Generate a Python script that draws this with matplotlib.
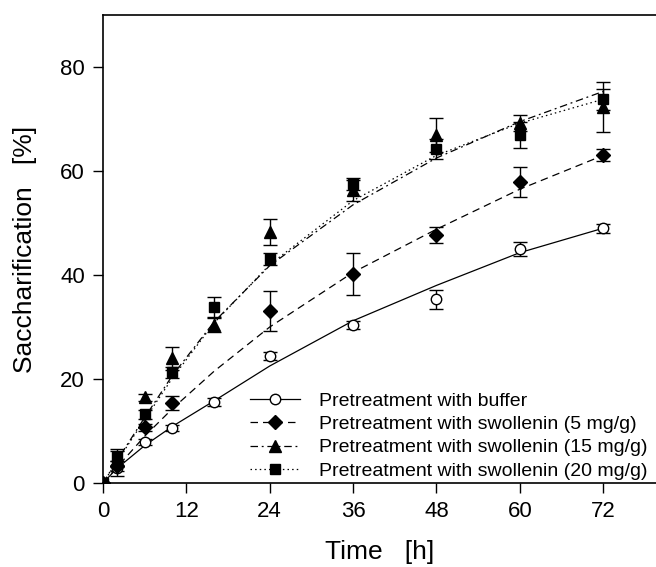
import matplotlib
matplotlib.use("Agg")
import matplotlib.pyplot as plt

plt.rcParams["font.family"] = ["Liberation Sans", "DejaVu Sans"]

# measured points (mean +/- error)
t_buf = [0, 2, 6, 10, 16, 24, 36, 48, 60, 72]
y_buf = [0, 2.8, 7.9, 10.6, 15.6, 24.4, 30.4, 35.3, 45.0, 49.0]
e_buf = [0, 1.5, 0.6, 0.6, 0.8, 0.7, 0.8, 1.9, 1.3, 0.9]

t_5 = [0, 2, 6, 10, 24, 36, 48, 60, 72]
y_5 = [0, 3.3, 10.7, 15.4, 33.1, 40.2, 47.7, 57.9, 63.1]
e_5 = [0, 1.0, 0.7, 1.4, 3.9, 4.0, 1.5, 2.9, 1.2]

t_15 = [0, 2, 6, 10, 16, 24, 36, 48, 60, 72]
y_15 = [0, 4.6, 16.5, 24.0, 30.4, 48.3, 56.3, 66.9, 69.2, 72.3]
e_15 = [0, 1.5, 0.7, 2.2, 1.4, 2.5, 2.0, 3.3, 1.6, 4.8]

t_20 = [0, 2, 6, 10, 16, 24, 36, 48, 60, 72]
y_20 = [0, 5.0, 13.2, 21.3, 33.9, 43.1, 57.5, 64.2, 66.9, 73.8]
e_20 = [0, 1.5, 0.8, 1.1, 1.9, 1.2, 1.2, 1.9, 2.5, 2.0]

# fitted curves
t_fit = [0, 2, 6, 10, 16, 24, 36, 48, 60, 72]
fit_buf = [0, 2.8, 7.2, 10.9, 15.8, 22.5, 31.2, 38.0, 44.3, 49.0]
fit_5 = [0, 3.0, 9.0, 14.3, 21.5, 30.0, 40.5, 48.8, 56.5, 63.0]
fit_15 = [0, 4.3, 12.6, 20.7, 31.0, 41.8, 53.5, 62.5, 69.5, 75.3]
fit_20 = [0, 4.1, 12.2, 20.2, 30.8, 42.0, 54.3, 63.0, 69.2, 73.8]

labels = ["Pretreatment with buffer",
          "Pretreatment with swollenin (5 mg/g)",
          "Pretreatment with swollenin (15 mg/g)",
          "Pretreatment with swollenin (20 mg/g)"]

series = [
    (t_buf, y_buf, e_buf, fit_buf, "o", 7.5, "white", "-"),
    (t_5, y_5, e_5, fit_5, "D", 7, "black", (0, (6, 4))),
    (t_15, y_15, e_15, fit_15, "^", 8.5, "black", (0, (6, 3, 1.5, 3))),
    (t_20, y_20, e_20, fit_20, "s", 6.5, "black", (0, (1.2, 2.5))),
]

fig = plt.figure(figsize=(6.56, 5.67), dpi=100)
ax = fig.add_axes([103 / 656, 84 / 567, 553 / 656, 468 / 567])

handles = []
for (t, y, e, fit, mk, ms, fc, ls), lab in zip(series, labels):
    ax.plot(t_fit, fit, color="black", ls=ls, lw=0.9)
    ax.errorbar(t, y, yerr=e, fmt=mk, ms=ms, mfc=fc, mec="black", mew=1,
                ecolor="black", elinewidth=1, capsize=5, capthick=1, zorder=3)
    h, = ax.plot([], [], color="black", ls=ls, lw=0.9, marker=mk, ms=ms,
                 mfc=fc, mec="black", mew=1)
    handles.append(h)

ax.set_xlim(0, 79.6)
ax.set_ylim(0, 90)
ax.set_xticks([0, 12, 24, 36, 48, 60, 72])
ax.set_yticks([0, 20, 40, 60, 80])
ax.tick_params(direction="out", length=7, width=1, labelsize=16, pad=6)
ax.spines["right"].set_visible(False)
for s in ("left", "bottom", "top"):
    ax.spines[s].set_linewidth(1.2)

ax.set_xlabel("Time   [h]", fontsize=19)
ax.set_ylabel("Saccharification   [%]", fontsize=19)
ax.xaxis.set_label_coords(0.5, -0.122)
ax.yaxis.set_label_coords(-0.12, 0.5)

ax.legend(handles, labels, loc="lower right", bbox_to_anchor=(0.998, -0.01),
          frameon=False, fontsize=14, handlelength=2.6, handletextpad=0.95,
          labelspacing=0.3, borderaxespad=0.0, numpoints=1)

fig.savefig("out.png", dpi=100)
